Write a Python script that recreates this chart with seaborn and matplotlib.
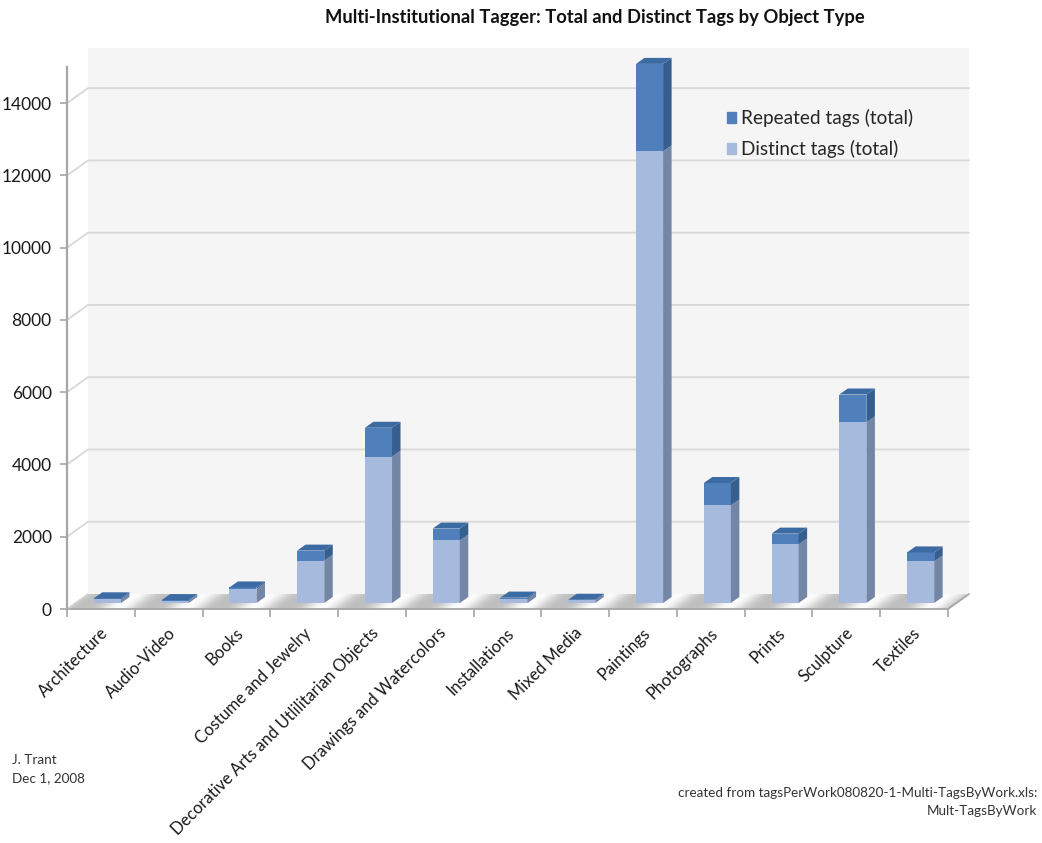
import numpy as np
import matplotlib
matplotlib.use("Agg")
import matplotlib.pyplot as plt
import seaborn as sns
import pandas as pd
from matplotlib.patches import Polygon, Patch
from matplotlib.transforms import ScaledTranslation

# ---------------- data ----------------
categories = ["Architecture", "Audio-Video", "Books", "Costume and Jewelry",
              "Decorative Arts and Utlilitarian Objects", "Drawings and Watercolors",
              "Installations", "Mixed Media", "Paintings", "Photographs", "Prints",
              "Sculpture", "Textiles"]
distinct_tags = [100, 60, 390, 1170, 4050, 1730, 120, 70, 12500, 2700, 1620, 5000, 1150]
repeated_tags = [30, 20, 40, 280, 800, 330, 30, 20, 2420, 620, 300, 770, 250]
y_ticks = [0, 2000, 4000, 6000, 8000, 10000, 12000, 14000]
series_labels = ["Repeated tags (total)", "Distinct tags (total)"]

# ---------------- style ----------------
C_DIS = "#a6badd"
C_DIS_SIDE = "#7486a6"
C_REP = "#4f80bb"
C_REP_SIDE = "#365f90"
C_TOP = "#3c6aa2"
GRID = "#d8d8d8"
AXC = "#a6a6a6"

sns.set_theme(style="white")
plt.rcParams["font.family"] = ["Lato", "DejaVu Sans"]

W, H, DPI = 1042, 843, 100
AX_L, AX_R, AX_T, AX_B = 67, 948, 67, 609
WALL = np.array([21.0, -15.0])   # pixel offset of back wall (right, up)
BAR = np.array([6.5, -6.0])      # pixel offset of bar front faces
DEPTH = np.array([8.5, -6.0])    # bar depth

fig = plt.figure(figsize=(W / DPI, H / DPI), dpi=DPI)
fig.patch.set_facecolor("white")
bg = fig.add_axes([0, 0, 1, 1], zorder=0)
bg.set_xlim(0, W)
bg.set_ylim(H, 0)
bg.axis("off")

ax = fig.add_axes([AX_L / W, (H - AX_B) / H, (AX_R - AX_L) / W, (AX_B - AX_T) / H], zorder=1)
ax.patch.set_alpha(0)

df = pd.DataFrame({"category": categories, "distinct": distinct_tags, "repeated": repeated_tags})
df["total"] = df["distinct"] + df["repeated"]

sns.barplot(data=df, x="category", y="total", color=C_REP, width=0.4, saturation=1,
            linewidth=0, errorbar=None, ax=ax, zorder=3)
sns.barplot(data=df, x="category", y="distinct", color=C_DIS, width=0.4, saturation=1,
            linewidth=0, errorbar=None, ax=ax, zorder=3)

n = len(categories)
ax.set_xlim(-0.5, n - 0.5)
ax.set_ylim(0, 15000)


def px(x, y):
    d = ax.transData.transform((x, y))
    return np.array([d[0], H - d[1]])


# back wall
wl = px(-0.5, 0) + WALL
wr = px(n - 0.5, 0) + WALL
wtop = px(-0.5, ax.get_ylim()[1])[1] + WALL[1] - 4
bg.add_patch(Polygon([wl, wr, [wr[0], wtop], [wl[0], wtop]], closed=True,
                     fc="#f5f5f5", ec="none", zorder=0))

# gridlines (front axis -> back wall)
for t in y_ticks[1:]:
    f = px(-0.5, t)
    b = f + WALL
    e = px(n - 0.5, t) + WALL
    bg.plot([f[0], b[0], e[0]], [f[1], b[1], e[1]], color=GRID, lw=1.3, zorder=1)

# floor with streaky texture
f0 = px(-0.5, 0)
f1 = px(n - 0.5, 0)
floor = [f0, f1, f1 + WALL, f0 + WALL]
floor_poly = Polygon(floor, closed=True, fc="#d0d0d0", ec="none", zorder=2)
bg.add_patch(floor_poly)
x0, x1 = f0[0], f1[0] + WALL[0]
y0, y1 = f0[1] + WALL[1], f0[1]
xs, ys = np.meshgrid(np.linspace(x0, x1, 600), np.linspace(y0, y1, 20))
phase = (xs + 1.3 * (ys - y0)) / ((x1 - x0 - WALL[0]) / n)
v = 0.5 + 0.5 * np.cos(2 * np.pi * phase)
g = 0.75 + 0.24 * v ** 1.5
img = np.dstack([g, g, g])
im = bg.imshow(img, extent=(x0, x1, y1, y0), aspect="auto", zorder=2.5, interpolation="bilinear")
im.set_clip_path(floor_poly)
bg.plot([f0[0], f1[0], f1[0] + WALL[0]], [f0[1], f1[1], f1[1] + WALL[1]], color=AXC, lw=1.3, zorder=3)
bg.plot([f0[0], f0[0] + WALL[0]], [f0[1], f0[1] + WALL[1]], color="#d0d0d0", lw=1, zorder=3)

# shift bar fronts and draw 3D faces
off = ScaledTranslation(BAR[0] / DPI, -BAR[1] / DPI, fig.dpi_scale_trans)
bars = list(ax.patches)
tot_bars, dis_bars = bars[:n], bars[n:2 * n]
for p in bars:
    p.set_transform(ax.transData + off)
    p.set_clip_on(False)

for tb, db in zip(tot_bars, dis_bars):
    xl = tb.get_x()
    xr = xl + tb.get_width()
    top = tb.get_height()
    mid = db.get_height()
    # side faces
    for ya, yb, col in [(0, mid, C_DIS_SIDE), (mid, top, C_REP_SIDE)]:
        a = px(xr, ya) + BAR
        b = px(xr, yb) + BAR
        poly = Polygon([a, a + DEPTH, b + DEPTH, b], closed=True, fc=col, ec="none",
                       transform=bg.transData, clip_on=False, zorder=3)
        ax.add_patch(poly)
    # top face
    l = px(xl, top) + BAR
    r = px(xr, top) + BAR
    poly = Polygon([l, r, r + DEPTH, l + DEPTH], closed=True, fc=C_TOP, ec="none",
                   transform=bg.transData, clip_on=False, zorder=3)
    ax.add_patch(poly)

# axes styling
for s in ["top", "right", "bottom"]:
    ax.spines[s].set_visible(False)
ax.spines["left"].set_color(AXC)
ax.spines["left"].set_linewidth(1.6)
ax.grid(False)
ax.set_xlabel("")
ax.set_ylabel("")
ax.set_yticks(y_ticks)
ax.set_yticklabels([str(t) for t in y_ticks])
ax.tick_params(axis="y", left=True, length=5, width=1.2, color=AXC, labelsize=12.5,
               pad=6, labelcolor="#1a1a1a")
ax.set_xticks(range(n))
ax.set_xticks(np.arange(-0.5, n, 1), minor=True)
ax.set_xticklabels(categories, rotation=45, ha="right", va="top", rotation_mode="anchor",
                   fontsize=11.9, color="#1a1a1a")
ax.tick_params(axis="x", which="major", bottom=True, length=0, pad=11.5)
ax.tick_params(axis="x", which="minor", bottom=True, length=6, width=1.2, color=AXC)
lab_off = ScaledTranslation(-1.5 / DPI, 0, fig.dpi_scale_trans)
for lab in ax.get_xticklabels():
    lab.set_transform(lab.get_transform() + lab_off)

# legend
handles = [Patch(color=C_REP, label=series_labels[0]), Patch(color=C_DIS, label=series_labels[1])]
leg = ax.legend(handles=handles, loc="upper left", bbox_to_anchor=(710 / W, 1 - 92 / H),
                bbox_transform=fig.transFigure, frameon=False, fontsize=13.7,
                handlelength=0.45, handleheight=0.45, handletextpad=0.3, labelspacing=0.68)

# texts
fig.text(595 / W, 1 - 17 / H, "Multi-Institutional Tagger: Total and Distinct Tags by Object Type",
         ha="center", va="center", fontsize=13.2, fontweight="bold", color="#111111")
fig.text(12 / W, 1 - 760 / H, "J. Trant", fontsize=9.7, va="center", color="#333333")
fig.text(12 / W, 1 - 778 / H, "Dec 1, 2008", fontsize=9.7, va="center", color="#333333")
fig.text(1037 / W, 1 - 793 / H, "created from tagsPerWork080820-1-Multi-TagsByWork.xls:",
         fontsize=9.7, ha="right", va="center", color="#333333")
fig.text(1037 / W, 1 - 811 / H, "Mult-TagsByWork", fontsize=9.7, ha="right", va="center",
         color="#333333")

fig.savefig("out.png", dpi=DPI)
